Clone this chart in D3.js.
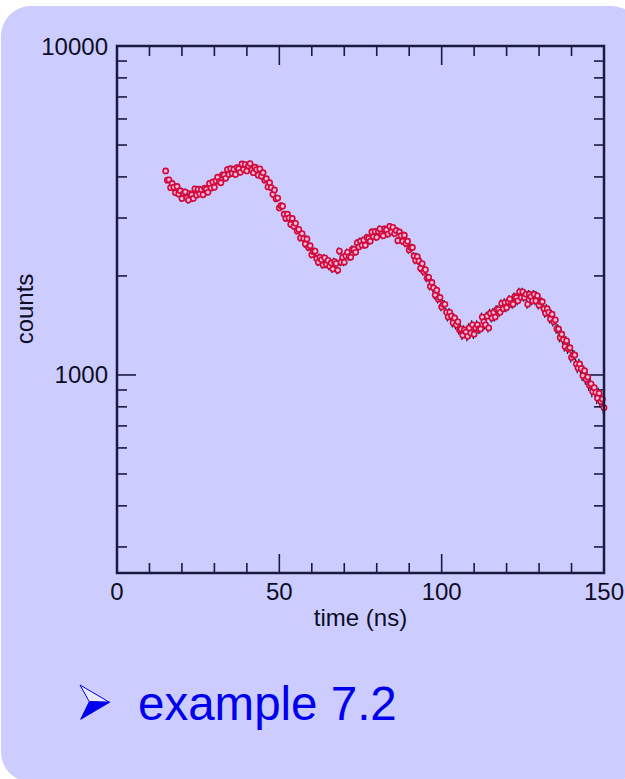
<!DOCTYPE html>
<html>
<head>
<meta charset="utf-8">
<script src="https://cdn.jsdelivr.net/npm/d3@7/dist/d3.min.js"></script>
<style>
  html, body { margin: 0; padding: 0; background: #ffffff; }
  svg { display: block; font-family: "Liberation Sans", Arial, Helvetica, sans-serif; }
</style>
</head>
<body>
<svg id="chart" width="625" height="779"></svg>
<script>
// Time-resolved counts, one channel every 0.5 ns from 15 ns to 150 ns
const timeStart = 15, timeStep = 0.5;
const counts = [
  4170, 3910, 3920, 3710, 3820, 3720, 3580, 3740, 3550, 3630,
  3440, 3560, 3600, 3450, 3400, 3560, 3530, 3440, 3680, 3520,
  3670, 3550, 3660, 3530, 3700, 3670, 3590, 3820, 3700, 3860,
  3720, 3890, 3990, 3870, 3840, 4060, 4050, 3960, 4210, 4070,
  4240, 4100, 4220, 4070, 4270, 4230, 4130, 4380, 4220, 4360,
  4170, 4320, 4390, 4200, 4120, 4280, 4210, 4050, 4230, 4020,
  4120, 3910, 3950, 3730, 3840, 3710, 3540, 3650, 3430, 3450,
  3220, 3270, 3260, 3080, 2990, 3080, 3000, 2870, 2990, 2830,
  2890, 2740, 2770, 2610, 2690, 2600, 2500, 2590, 2440, 2470,
  2320, 2370, 2380, 2260, 2200, 2280, 2240, 2160, 2270, 2170,
  2230, 2140, 2190, 2100, 2210, 2180, 2080, 2380, 2200, 2280,
  2200, 2300, 2360, 2290, 2280, 2410, 2410, 2360, 2520, 2450,
  2550, 2480, 2570, 2480, 2620, 2600, 2550, 2720, 2630, 2730,
  2620, 2730, 2780, 2680, 2650, 2780, 2760, 2680, 2830, 2720,
  2810, 2690, 2750, 2560, 2720, 2650, 2550, 2660, 2510, 2550,
  2400, 2440, 2440, 2300, 2230, 2290, 2220, 2110, 2180, 2060,
  2090, 1970, 1980, 1860, 1910, 1840, 1750, 1810, 1700, 1720,
  1610, 1640, 1640, 1550, 1500, 1550, 1510, 1440, 1490, 1420,
  1450, 1370, 1380, 1320, 1370, 1350, 1310, 1390, 1340, 1420,
  1330, 1390, 1420, 1380, 1380, 1500, 1450, 1420, 1510, 1390,
  1540, 1490, 1550, 1500, 1580, 1580, 1550, 1650, 1590, 1660,
  1600, 1670, 1700, 1650, 1640, 1730, 1720, 1680, 1790, 1720,
  1790, 1720, 1760, 1640, 1760, 1730, 1680, 1760, 1680, 1740,
  1630, 1670, 1670, 1590, 1540, 1590, 1550, 1480, 1530, 1450,
  1470, 1380, 1380, 1300, 1330, 1280, 1220, 1270, 1200, 1210,
  1130, 1150, 1150, 1080, 1050, 1080, 1045, 995, 1030, 970,
  985, 930, 940, 890, 915, 885, 850, 880, 830, 845,
  795
];
const times = counts.map((_, i) => timeStart + i * timeStep);

// Axis ticks
const xMajorTicks = [0, 50, 100, 150];
const xMinorTicks = [10, 20, 30, 40, 60, 70, 80, 90, 110, 120, 130, 140];
const yMajorTicks = [1000, 10000];
const yMinorTicks = [300, 400, 500, 600, 700, 800, 900, 2000, 3000, 4000, 5000, 6000, 7000, 8000, 9000];

const svg = d3.select("#chart");

// Slide panel
svg.append("rect")
  .attr("x", 1).attr("y", 6)
  .attr("width", 640).attr("height", 776)
  .attr("rx", 30).attr("ry", 30)
  .attr("fill", "#ccccff");

const plot = { left: 117, right: 604, top: 46, bottom: 573 };
const axisColor = "#1a1a40";

const x = d3.scaleLinear().domain([0, 150]).range([plot.left, plot.right]);
const y = d3.scaleLog().domain([250, 10000]).range([plot.bottom, plot.top]);

const g = svg.append("g");

// Inward ticks on all four sides
function ticks(list, len) {
  list.forEach(v => {
    const px = x(v);
    g.append("line").attr("x1", px).attr("x2", px).attr("y1", plot.bottom).attr("y2", plot.bottom - len)
      .attr("stroke", axisColor).attr("stroke-width", 1.6);
    g.append("line").attr("x1", px).attr("x2", px).attr("y1", plot.top).attr("y2", plot.top + len)
      .attr("stroke", axisColor).attr("stroke-width", 1.6);
  });
}
function yticks(list, len) {
  list.forEach(v => {
    const py = y(v);
    g.append("line").attr("x1", plot.left).attr("x2", plot.left + len).attr("y1", py).attr("y2", py)
      .attr("stroke", axisColor).attr("stroke-width", 1.6);
    g.append("line").attr("x1", plot.right).attr("x2", plot.right - len).attr("y1", py).attr("y2", py)
      .attr("stroke", axisColor).attr("stroke-width", 1.6);
  });
}
ticks(xMajorTicks, 19);
ticks(xMinorTicks, 10);
yticks(yMajorTicks, 19);
yticks(yMinorTicks, 10);

// Tick labels
const labelColor = "#0d0d26";
g.selectAll(".xl").data(xMajorTicks).enter().append("text")
  .attr("x", d => x(d)).attr("y", 600)
  .attr("text-anchor", "middle").attr("font-size", 24).attr("fill", labelColor)
  .text(d => d);
g.selectAll(".yl").data(yMajorTicks).enter().append("text")
  .attr("x", 108).attr("y", d => y(d) + 8.5)
  .attr("text-anchor", "end").attr("font-size", 24).attr("fill", labelColor)
  .text(d => d);

// Axis titles
g.append("text").attr("x", x(75)).attr("y", 626)
  .attr("text-anchor", "middle").attr("font-size", 24).attr("fill", labelColor)
  .text("time (ns)");
g.append("text").attr("transform", "translate(33,309) rotate(-90)")
  .attr("text-anchor", "middle").attr("font-size", 24).attr("fill", labelColor)
  .text("counts");

// Data: Poisson error bars then symbols
const pts = times.map((t, i) => ({ t, c: counts[i] }));
g.append("g").selectAll("line").data(pts).enter().append("line")
  .attr("x1", d => x(d.t) - 0.8).attr("x2", d => x(d.t) - 0.8)
  .attr("y1", d => y(d.c + Math.sqrt(d.c)) - 0.8)
  .attr("y2", d => y(d.c - Math.sqrt(d.c)) + 0.8)
  .attr("stroke", "#111122").attr("stroke-width", 1.2);
g.append("g").selectAll("circle").data(pts).enter().append("circle")
  .attr("cx", d => x(d.t)).attr("cy", d => y(d.c))
  .attr("r", 2.6)
  .attr("fill", "#ecbcdc").attr("stroke", "#d4083c").attr("stroke-width", 1.6);

// Frame
g.append("rect")
  .attr("x", plot.left).attr("y", plot.top)
  .attr("width", plot.right - plot.left).attr("height", plot.bottom - plot.top)
  .attr("fill", "none").attr("stroke", axisColor).attr("stroke-width", 2.5);

// Bullet and caption
const bullet = svg.append("g");
bullet.append("path")
  .attr("d", "M80,685 L109.5,702.3 L89.3,701.7 Z")
  .attr("fill", "#e8e8ff").attr("stroke", "#0000ee").attr("stroke-width", 1);
bullet.append("path")
  .attr("d", "M89.3,701.7 L109.5,702.3 L80.7,719.3 Z")
  .attr("fill", "#0000ee").attr("stroke", "#0000ee").attr("stroke-width", 1);
svg.append("text").attr("x", 138).attr("y", 720)
  .attr("font-size", 47.5).attr("fill", "#0000ee")
  .text("example 7.2");
</script>
</body>
</html>
